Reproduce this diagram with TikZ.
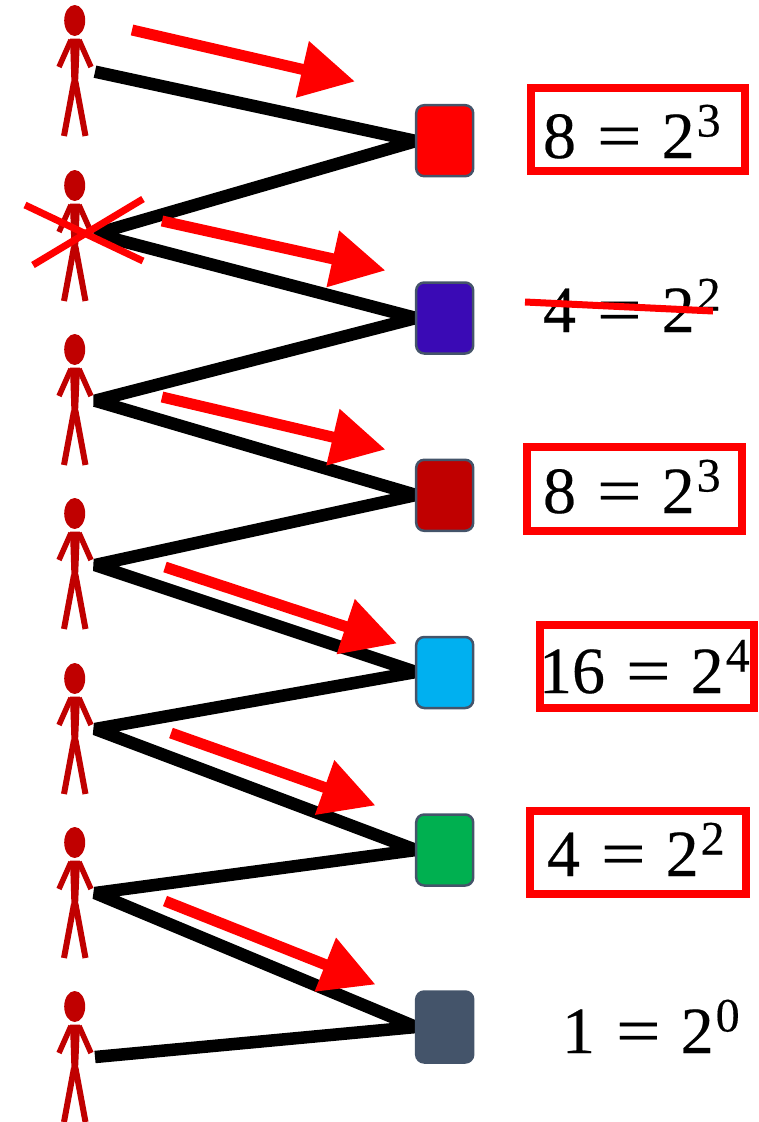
\documentclass[tikz,border=0pt]{standalone}
\usepackage{fontspec}
\setmainfont{Liberation Serif}
\newfontfamily\eqfont[FakeBold=0.35]{Liberation Serif}
\usetikzlibrary{arrows.meta}
\definecolor{pcol}{HTML}{C00000}
\definecolor{edgecol}{HTML}{44546A}
\definecolor{cblue}{HTML}{3A0AB5}
\definecolor{csky}{HTML}{00B0F0}
\definecolor{cgreen}{HTML}{00B050}
\tikzset{
  x=1pt,y=-1pt,
  sq/.style={draw=edgecol,line width=2.5pt,rounded corners=8pt,minimum width=57pt,minimum height=71pt,inner sep=0pt,outer sep=0pt},
  zig/.style={draw=black,line width=12.5pt,line join=bevel},
  bigarrow/.style={draw=red,line width=11pt,-{Triangle[length=54pt,width=55pt]}},
  cross/.style={draw=red,line width=7pt},
  framebox/.style={draw=red,line width=8pt},
  eq/.style={anchor=base west,inner sep=0pt,outer sep=0pt},
}
\newcommand{\eqn}[2]{\eqfont\fontsize{66pt}{66pt}\selectfont #1\hspace{21pt}\scalebox{1.2}[1]{=}\hspace{20pt}2\hspace{2pt}\raisebox{21.5pt}{\fontsize{48pt}{48pt}\selectfont #2}}
\newcommand{\stick}[2]{%
  \begin{scope}[yshift=-#1pt]
    \fill[pcol] (74.7,20.5) ellipse [x radius=10.5,y radius=15.5];
    \fill[pcol] (70,38.5) -- (80,38.5) -- (78,85) -- (71.5,85) -- cycle;
    \draw[pcol,line width=5.5pt] (71,40) -- (59,67);
    \draw[pcol,line width=5.5pt] (79,40) -- (91,67);
    \draw[pcol,line width=6pt] (74,82) -- (64,136);
    \draw[pcol,line width=6pt] (75.5,82) -- (85.5,136);
    \coordinate (#2) at (95,#1);
  \end{scope}}
\begin{document}
\begin{tikzpicture}
\useasboundingbox (0,0) rectangle (758,1122);
% people
\stick{0}{pa}
\stick{165}{pb}
\stick{329}{pc}
\stick{493}{pd}
\stick{658}{pe}
\stick{822}{pf}
\stick{986}{pg}
% zigzag end points at the people
\coordinate (ha) at (95,71.7);
\coordinate (hb) at (95,234);
\coordinate (hc) at (95,400.7);
\coordinate (hd) at (95,565);
\coordinate (he) at (95,729);
\coordinate (hf) at (95,893);
\coordinate (hg) at (95,1057);
% squares (positions only, drawn after the lines)
\coordinate (ra) at (416,141);
\coordinate (rb) at (416,318);
\coordinate (rc) at (416,495);
\coordinate (rd) at (416,672);
\coordinate (re) at (416,850);
\coordinate (rf) at (416,1027);
\draw[zig] (ha) -- (ra) -- (hb) -- (rb) -- (hc) -- (rc) -- (hd) -- (rd) -- (he) -- (re) -- (hf) -- (rf) -- (hg);
\node[sq,fill=red] (sa) at (444.7,140.7) {};
\node[sq,fill=cblue] (sb) at (444.7,318) {};
\node[sq,fill=pcol] (sc) at (444.7,495.3) {};
\node[sq,fill=csky] (sd) at (444.7,672.5) {};
\node[sq,fill=cgreen] (se) at (444.7,850) {};
\node[sq,fill=edgecol] (sf) at (444.7,1027) {};
% red arrows
\coordinate (aa0) at (132,30);   \coordinate (aa1) at (355,81.5);
\coordinate (ab0) at (162,221);  \coordinate (ab1) at (385.5,270.5);
\coordinate (ac0) at (162,397);  \coordinate (ac1) at (385.5,449.5);
\coordinate (ad0) at (165,567);  \coordinate (ad1) at (397,643.5);
\coordinate (ae0) at (171,733);  \coordinate (ae1) at (375.5,805.5);
\coordinate (af0) at (165,901);  \coordinate (af1) at (375.5,984.5);
\draw[bigarrow] (aa0) -- (aa1);
\draw[bigarrow] (ab0) -- (ab1);
\draw[bigarrow] (ac0) -- (ac1);
\draw[bigarrow] (ad0) -- (ad1);
\draw[bigarrow] (ae0) -- (ae1);
\draw[bigarrow] (af0) -- (af1);
% cross over the second person
\coordinate (xa0) at (25,205); \coordinate (xa1) at (143,261);
\coordinate (xb0) at (33,265); \coordinate (xb1) at (143,199);
\draw[cross] (xa0) -- (xa1);
\draw[cross] (xb0) -- (xb1);
% equations
\node[eq] (ea) at (543,158) {\eqn{8}{3}};
\node[eq] (eb) at (543,332) {\eqn{4}{2}};
\node[eq] (ec) at (543,513) {\eqn{8}{3}};
\node[eq] (ed) at (539,693) {\eqn{16}{4}};
\node[eq] (ee) at (547,876) {\eqn{4}{2}};
\node[eq] (ef) at (562,1053) {\eqn{1}{0}};
% frames
\coordinate (fa0) at (531,88);  \coordinate (fa1) at (745,171);
\coordinate (fc0) at (527,447); \coordinate (fc1) at (742,531);
\coordinate (fd0) at (540,625); \coordinate (fd1) at (754,708);
\coordinate (fe0) at (530,811); \coordinate (fe1) at (746,894);
\draw[framebox] (fa0) rectangle (fa1);
\draw[framebox] (fc0) rectangle (fc1);
\draw[framebox] (fd0) rectangle (fd1);
\draw[framebox] (fe0) rectangle (fe1);
% strike-through
\coordinate (sk0) at (525,302); \coordinate (sk1) at (713,311);
\draw[cross] (sk0) -- (sk1);
\end{tikzpicture}
\end{document}
